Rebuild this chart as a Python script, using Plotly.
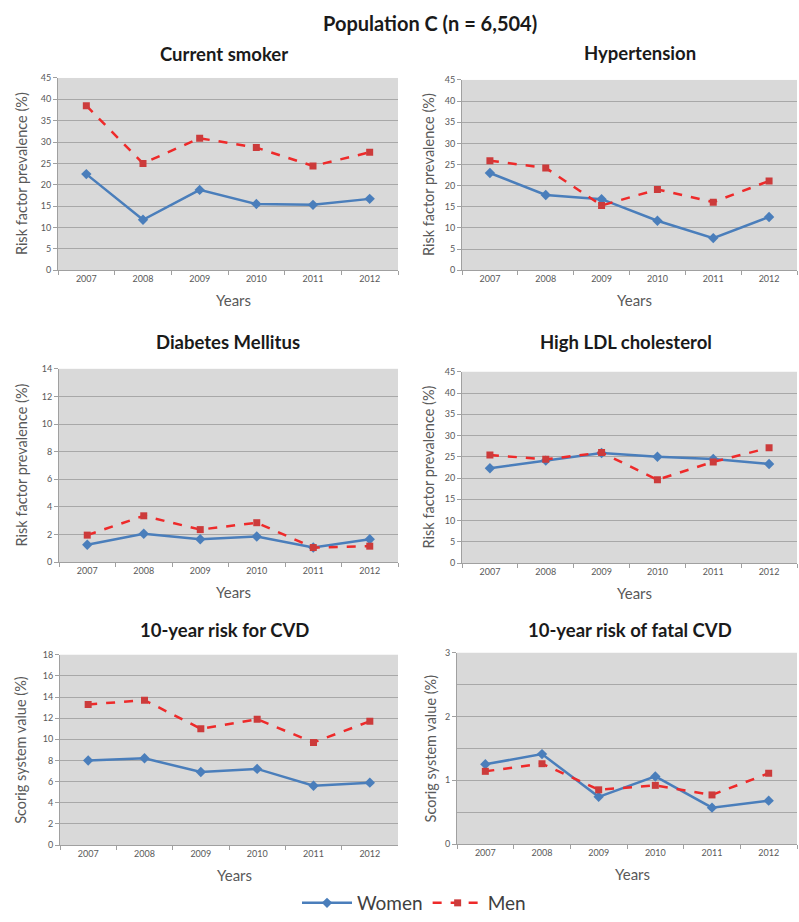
import plotly.graph_objects as go

years = ["2007", "2008", "2009", "2010", "2011", "2012"]

smoker_women = [22.5, 11.8, 18.8, 15.5, 15.3, 16.7]
smoker_men = [38.5, 25.0, 30.9, 28.7, 24.4, 27.6]
hyper_women = [23.0, 17.8, 16.8, 11.7, 7.6, 12.6]
hyper_men = [25.9, 24.2, 15.3, 19.1, 16.1, 21.1]
diab_women = [1.25, 2.05, 1.65, 1.85, 1.05, 1.65]
diab_men = [1.95, 3.35, 2.35, 2.85, 1.05, 1.15]
ldl_women = [22.3, 24.1, 25.9, 25.0, 24.5, 23.3]
ldl_men = [25.4, 24.4, 26.0, 19.6, 23.8, 27.1]
cvd_women = [8.0, 8.2, 6.9, 7.2, 5.6, 5.9]
cvd_men = [13.3, 13.7, 11.0, 11.9, 9.7, 11.7]
fatal_women = [1.25, 1.41, 0.74, 1.06, 0.57, 0.68]
fatal_men = [1.14, 1.26, 0.85, 0.92, 0.77, 1.11]

panel_titles = ["Current smoker", "Hypertension", "Diabetes Mellitus",
                "High LDL cholesterol", "10-year risk for CVD", "10-year risk of fatal CVD"]
y_titles = ["Risk factor prevalence (%)"] * 4 + ["Scorig system value (%)"] * 2
y_max = [45, 45, 14, 45, 18, 3]
y_dtick = [5, 5, 2, 5, 2, 1]
women_series = [smoker_women, hyper_women, diab_women, ldl_women, cvd_women, fatal_women]
men_series = [smoker_men, hyper_men, diab_men, ldl_men, cvd_men, fatal_men]

W, H = 799, 922
# plot areas in pixels: (left, right, top, bottom)
boxes = [(58, 398, 73, 268), (462, 797, 75, 268),
         (59, 398, 368, 564), (462, 797, 371, 565),
         (60, 398, 658, 851), (457, 797, 656, 850)]
title_pos = [(224, 49), (640, 48), (228, 341), (626, 341), (224, 633), (630, 633)]
ytitle_x = [21, 428, 21, 428, 21, 430]

FONT = "Lato, Open Sans, sans-serif"
fig = go.Figure()
layout = dict(width=W, height=H, margin=dict(l=0, r=0, t=0, b=0),
              paper_bgcolor="white", plot_bgcolor="#d9d9d9",
              font=dict(family=FONT, color="#595959"))
annotations = []

for i in range(6):
    l, r, t, b = boxes[i]
    xa = "xaxis" if i == 0 else f"xaxis{i+1}"
    ya = "yaxis" if i == 0 else f"yaxis{i+1}"
    xr = "x" if i == 0 else f"x{i+1}"
    yr = "y" if i == 0 else f"y{i+1}"
    fig.add_trace(go.Scatter(x=years, y=women_series[i], xaxis=xr, yaxis=yr,
                             mode="lines+markers", name="Women", showlegend=(i == 0),
                             line=dict(color="#4a7ebb", width=2.5),
                             marker=dict(symbol="diamond", size=8, color="#4a7ebb")))
    fig.add_trace(go.Scatter(x=years, y=men_series[i], xaxis=xr, yaxis=yr,
                             mode="lines+markers", name="Men", showlegend=(i == 0),
                             line=dict(color="#ee2a2a", width=2.5, dash="dash"),
                             marker=dict(symbol="square", size=7, color="#cc3b3b")))
    layout[xa] = dict(domain=[l / W, r / W], anchor=yr, type="category",
                      range=[-0.5, 5.5], tickson="boundaries", ticks="outside",
                      ticklen=4, tickcolor="#a0a0a0", showgrid=False,
                      showline=True, linecolor="#a0a0a0", linewidth=1,
                      tickfont=dict(size=9, color="#595959"), fixedrange=True)
    yd = dict(domain=[1 - b / H, 1 - t / H], anchor=xr, range=[0, y_max[i]],
              dtick=y_dtick[i], tick0=0, ticks="outside", ticklen=4,
              tickcolor="#a0a0a0", showgrid=True, gridcolor="#a8a8a8", gridwidth=1,
              showline=True, linecolor="#a0a0a0", linewidth=1, zeroline=False,
              tickfont=dict(size=9, color="#595959"), fixedrange=True)
    if i == 5:
        yd["minor"] = dict(dtick=0.5, showgrid=True, gridcolor="#a8a8a8", ticks="")
    layout[ya] = yd
    tx, ty = title_pos[i]
    annotations.append(dict(text=f"<b>{panel_titles[i]}</b>", x=tx / W, y=1 - ty / H,
                            xref="paper", yref="paper", showarrow=False,
                            xanchor="center", yanchor="middle",
                            font=dict(size=18.5, color="#1a1a1a", family=FONT)))
    annotations.append(dict(text=y_titles[i], x=ytitle_x[i] / W, y=1 - (t + b) / 2 / H,
                            xref="paper", yref="paper", showarrow=False, textangle=-90,
                            xanchor="center", yanchor="middle",
                            font=dict(size=14.5, color="#595959", family=FONT)))
    annotations.append(dict(text="Years", x=((l + r) / 2 + 5) / W, y=1 - (b + 30) / H,
                            xref="paper", yref="paper", showarrow=False,
                            xanchor="center", yanchor="middle",
                            font=dict(size=15, color="#595959", family=FONT)))

annotations.append(dict(text="<b>Population C (n = 6,504)</b>", x=430 / W, y=1 - 17 / H,
                        xref="paper", yref="paper", showarrow=False,
                        xanchor="center", yanchor="middle",
                        font=dict(size=20, color="#1a1a1a", family=FONT)))
layout["annotations"] = annotations
layout["legend"] = dict(orientation="h", x=414 / W, y=1 - 910 / H, xanchor="center",
                        yanchor="middle", font=dict(size=19, color="#404040", family=FONT),
                        bgcolor="rgba(0,0,0,0)", itemwidth=50)
fig.update_layout(**layout)
fig.write_html("out.html", config={"displayModeBar": False},
               post_script="document.body.style.margin='0';document.body.style.overflow='hidden';")
